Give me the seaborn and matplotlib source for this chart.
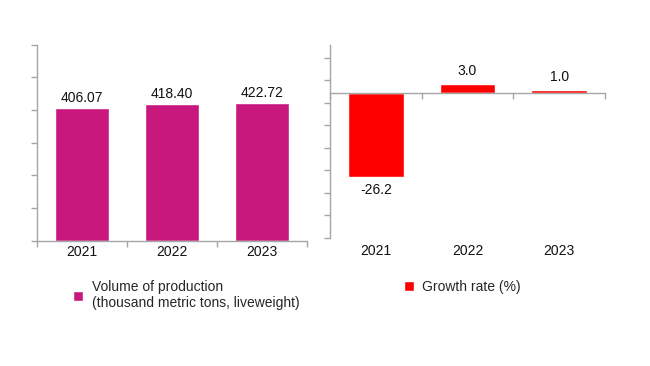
import matplotlib
matplotlib.use("Agg")
import matplotlib.pyplot as plt
import matplotlib.transforms as mtransforms
import seaborn as sns

# chart data
years = ["2021", "2022", "2023"]
volume = [406.07, 418.40, 422.72]
growth = [-26.2, 3.0, 1.0]
volume_label = "Volume of production\n(thousand metric tons, liveweight)"
growth_label = "Growth rate (%)"

sns.set_style("white")
plt.rcParams["font.family"] = ["Liberation Sans", "DejaVu Sans"]

axis_grey = "#A6A6A6"
magenta = "#C8187E"
red = "#FF0000"
fs = 10

fig = plt.figure(figsize=(6.5, 3.66), dpi=100)
ax1 = fig.add_axes([0.0569, 0.3423, 0.4154, 0.5355])
ax2 = fig.add_axes([0.5077, 0.3505, 0.4231, 0.5265])


def style_axis(ax):
    for side in ["top", "right"]:
        ax.spines[side].set_visible(False)
    for side in ["left", "bottom"]:
        ax.spines[side].set_color(axis_grey)
        ax.spines[side].set_linewidth(1.0)
    ax.set_xticks([-0.5, 0.5, 1.5, 2.5])
    ax.set_xticklabels([])
    ax.tick_params(axis="both", direction="out", length=4, width=1,
                   color=axis_grey, labelleft=False, left=True, bottom=True)
    ax.set_xlim(-0.5, 2.5)
    ax.set_xlabel("")
    ax.set_ylabel("")
    ax.grid(False)
    trans = mtransforms.blended_transform_factory(ax.transData, ax.transAxes)
    return trans


# left: production volume
sns.barplot(x=years, y=volume, color=magenta, width=0.61, saturation=1,
            ax=ax1, label=volume_label)
trans1 = style_axis(ax1)
ax1.set_ylim(0, 600)
ax1.set_yticks(range(0, 601, 100))
ax1.bar_label(ax1.containers[0], fmt="%.2f", padding=2, fontsize=fs, color="#111111")
for i, y in enumerate(years):
    ax1.text(i, -0.022, y, transform=trans1, ha="center", va="top", fontsize=fs,
             color="#111111")

# right: growth rate
sns.barplot(x=years, y=growth, color=red, width=0.61, saturation=1,
            ax=ax2, label=growth_label)
trans2 = style_axis(ax2)
ax2.set_ylim(-45, 15)
ax2.set_yticks(range(-45, 15, 7))
ax2.spines["bottom"].set_position(("data", 0))
ax2.bar_label(ax2.containers[0], fmt="%.1f", padding=4, fontsize=fs, color="#111111")
for i, y in enumerate(years):
    ax2.text(i, -0.035, y, transform=trans2, ha="center", va="top", fontsize=fs,
             color="#111111")

for ax in (ax1, ax2):
    if ax.get_legend() is not None:
        ax.get_legend().remove()

h1, l1 = ax1.get_legend_handles_labels()
h2, l2 = ax2.get_legend_handles_labels()
leg_kw = dict(frameon=False, fontsize=fs, handlelength=0.75, handleheight=0.75,
              handletextpad=0.6, borderpad=0, borderaxespad=0, loc="upper left",
              labelspacing=0.2)
fig.legend(h1[:1], l1[:1], bbox_to_anchor=(0.112, 0.235), **leg_kw)
fig.legend(h2[:1], l2[:1], bbox_to_anchor=(0.621, 0.235), **leg_kw)

fig.savefig("out.png", dpi=100, facecolor="white")
